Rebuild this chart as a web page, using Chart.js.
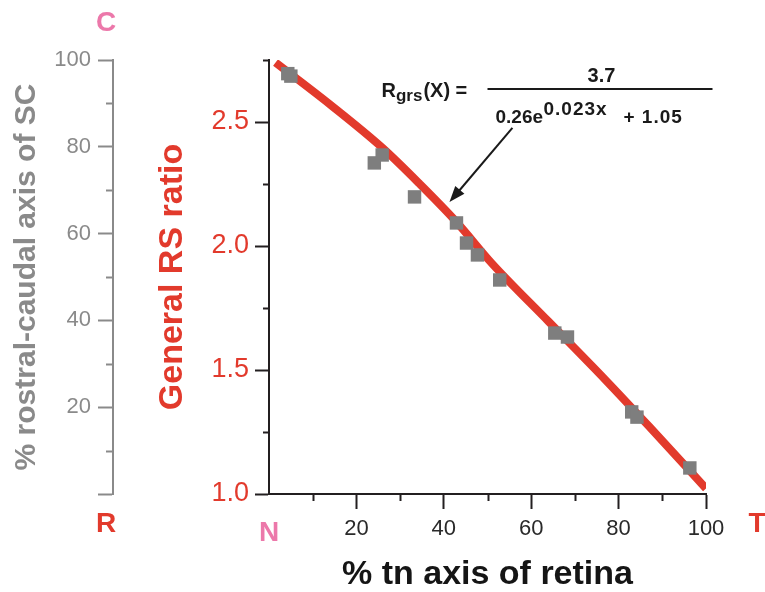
<!DOCTYPE html>
<html>
<head>
<meta charset="utf-8">
<script src="https://cdn.jsdelivr.net/npm/chart.js@4.4.1/dist/chart.umd.min.js"></script>
<style>
  html, body { margin: 0; padding: 0; background: #fff; }
  canvas { display: block; }
</style>
</head>
<body>
<canvas id="chart" width="765" height="592"></canvas>
<script>
// measured points (% tn axis of retina, general RS ratio)
const pointX = [4.3, 5.0, 24.1, 25.9, 33.3, 42.9, 45.2, 47.7, 52.8, 65.4, 68.3, 83.0, 84.2, 96.3]
const pointY = [2.695, 2.685, 2.335, 2.367, 2.198, 2.093, 2.012, 1.964, 1.863, 1.649, 1.633, 1.331, 1.31, 1.105]

// fitted curve
const fitX = [1.5, 14, 26, 34.5, 43, 51, 64, 77, 87, 100]
const fitY = [2.74, 2.57, 2.395, 2.25, 2.095, 1.93, 1.695, 1.46, 1.272, 1.022]

// minor ticks
const ratioMinor = [1.25, 1.75, 2.25, 2.75]
const percentMinor = [10, 30, 50, 70, 90]

// end labels of the two anatomical axes
const retinaEnds = ['N', 'T']
const scEnds = ['R', 'C']

// equation annotation, anchored in data units
const eqAnchor = [50, 2.633]
const arrowFrom = [55.7, 2.476]
const arrowTo = [41.3, 2.177]

const FONT = '"Liberation Sans", Arial, Helvetica, sans-serif'
const RED = '#e23a2c'
const PINK = '#ec78aa'
const GREY = '#8a8a8a'
const POINT = '#7e7e7e'
const AXIS = '#231f20'

const decor = {
    id: 'decor',
    afterDraw(chart) {
        const { ctx, scales: { x, y, sc } } = chart
        ctx.save()

        // minor ticks
        ctx.lineWidth = 2
        ctx.strokeStyle = AXIS
        ratioMinor.forEach(v => {
            const py = Math.round(y.getPixelForValue(v)) + 0.5
            ctx.beginPath(); ctx.moveTo(y.right - 6, py); ctx.lineTo(y.right, py); ctx.stroke()
        })
        percentMinor.forEach(v => {
            const px = Math.round(x.getPixelForValue(v)) + 0.5
            ctx.beginPath(); ctx.moveTo(px, x.top); ctx.lineTo(px, x.top + 7); ctx.stroke()
        })
        ctx.strokeStyle = GREY
        percentMinor.forEach(v => {
            const py = Math.round(sc.getPixelForValue(v)) + 0.5
            ctx.beginPath(); ctx.moveTo(sc.right - 7, py); ctx.lineTo(sc.right, py); ctx.stroke()
        })

        // axis end letters
        ctx.font = 'bold 28px ' + FONT
        ctx.textAlign = 'center'
        ctx.textBaseline = 'middle'
        ctx.fillStyle = RED
        ctx.fillText(scEnds[0], sc.right - 7, sc.getPixelForValue(0) + 30)
        ctx.fillText(retinaEnds[1], x.getPixelForValue(100) + 51, sc.getPixelForValue(0) + 30)
        ctx.fillStyle = PINK
        ctx.fillText(scEnds[1], sc.right - 7, sc.getPixelForValue(100) - 37)

        // equation
        const ex = x.getPixelForValue(eqAnchor[0])
        const ey = y.getPixelForValue(eqAnchor[1])
        ctx.fillStyle = '#1a1a1a'
        ctx.textBaseline = 'alphabetic'
        ctx.textAlign = 'left'
        let cx = ex - 106
        ctx.font = 'bold 20px ' + FONT
        ctx.fillText('R', cx, ey + 8)
        cx += ctx.measureText('R').width
        ctx.font = 'bold 17px ' + FONT
        ctx.fillText('grs', cx, ey + 12)
        cx += ctx.measureText('grs').width
        ctx.font = 'bold 20px ' + FONT
        ctx.fillText('(X) =', cx + 1, ey + 8)

        ctx.strokeStyle = '#1a1a1a'
        ctx.lineWidth = 2
        ctx.beginPath(); ctx.moveTo(ex, ey); ctx.lineTo(ex + 225, ey); ctx.stroke()

        ctx.textAlign = 'center'
        ctx.fillText('3.7', ex + 114, ey - 7)
        ctx.textAlign = 'left'
        ctx.font = 'bold 19px ' + FONT
        ctx.fillText('0.26e', ex + 8, ey + 34)
        ctx.letterSpacing = '1px'
        ctx.fillText('0.023x', ex + 56, ey + 26)
        ctx.fillText('+ 1.05', ex + 136, ey + 34)
        ctx.letterSpacing = '0px'

        // arrow
        const ax0 = x.getPixelForValue(arrowFrom[0]), ay0 = y.getPixelForValue(arrowFrom[1])
        const ax1 = x.getPixelForValue(arrowTo[0]), ay1 = y.getPixelForValue(arrowTo[1])
        const ang = Math.atan2(ay1 - ay0, ax1 - ax0)
        ctx.beginPath(); ctx.moveTo(ax0, ay0)
        ctx.lineTo(ax1 - 10 * Math.cos(ang), ay1 - 10 * Math.sin(ang)); ctx.stroke()
        ctx.beginPath()
        ctx.moveTo(ax1, ay1)
        ctx.lineTo(ax1 - 16 * Math.cos(ang) + 6 * Math.sin(ang), ay1 - 16 * Math.sin(ang) - 6 * Math.cos(ang))
        ctx.lineTo(ax1 - 16 * Math.cos(ang) - 6 * Math.sin(ang), ay1 - 16 * Math.sin(ang) + 6 * Math.cos(ang))
        ctx.closePath()
        ctx.fill()

        ctx.restore()
    }
}

const isZero = ctx => ctx.tick && ctx.tick.value === 0

const config = {
    type: 'scatter',
    data: {
        datasets: [{
            label: 'measured',
            data: pointX.map((v, i) => ({ x: v, y: pointY[i] })),
            xAxisID: 'x',
            yAxisID: 'y',
            pointStyle: 'rect',
            pointRadius: 9.5,
            pointHoverRadius: 9.5,
            backgroundColor: POINT,
            borderWidth: 0
        }, {
            label: 'fit',
            data: fitX.map((v, i) => ({ x: v, y: fitY[i] })),
            xAxisID: 'x',
            yAxisID: 'y',
            showLine: true,
            borderColor: RED,
            borderWidth: 8,
            pointRadius: 0,
            cubicInterpolationMode: 'monotone',
            fill: false
        }]
    },
    options: {
        responsive: false,
        animation: false,
        devicePixelRatio: 1,
        layout: { padding: { top: 60, right: 59, bottom: 0, left: 0 } },
        plugins: {
            legend: { display: false },
            tooltip: { enabled: false }
        },
        scales: {
            x: {
                type: 'linear',
                position: 'bottom',
                min: 0,
                max: 100,
                ticks: {
                    stepSize: 20,
                    padding: 7,
                    maxRotation: 0,
                    color: ctx => isZero(ctx) ? PINK : '#2a2a2a',
                    font: ctx => isZero(ctx) ? { family: FONT, size: 28, weight: 'bold' } : { family: FONT, size: 22 },
                    callback: v => v === 0 ? retinaEnds[0] : v
                },
                grid: {
                    drawOnChartArea: false,
                    tickLength: 15,
                    tickWidth: 2,
                    tickColor: ctx => isZero(ctx) ? 'rgba(0,0,0,0)' : AXIS
                },
                border: { color: AXIS, width: 2 },
                title: {
                    display: true,
                    text: '% tn axis of retina',
                    color: '#151515',
                    font: { family: FONT, size: 34, weight: 'bold', lineHeight: 1 },
                    padding: { top: 0, bottom: 0 }
                },
                afterFit: s => { s.height = 98 }
            },
            sc: {
                type: 'linear',
                position: 'left',
                weight: 1,
                min: 0,
                max: 100,
                ticks: {
                    stepSize: 20,
                    padding: 7,
                    color: GREY,
                    font: { family: FONT, size: 22 },
                    callback: v => v === 0 ? '' : v
                },
                grid: { drawOnChartArea: false, tickLength: 15, tickWidth: 2, tickColor: GREY },
                border: { color: GREY, width: 2 },
                title: {
                    display: true,
                    text: '% rostral-caudal axis of SC',
                    color: GREY,
                    font: { family: FONT, size: 30, weight: 'bold', lineHeight: 1 },
                    padding: { top: 12, bottom: 0 }
                },
                afterFit: s => { s.width = 113 }
            },
            y: {
                type: 'linear',
                position: 'left',
                weight: 0,
                min: 1,
                max: 2.75,
                ticks: {
                    stepSize: 0.5,
                    includeBounds: false,
                    padding: 6,
                    color: RED,
                    font: { family: FONT, size: 27 },
                    callback: v => v.toFixed(1)
                },
                grid: { drawOnChartArea: false, tickLength: 14, tickWidth: 2, tickColor: AXIS },
                border: { color: AXIS, width: 2 },
                title: {
                    display: true,
                    text: 'General RS ratio',
                    color: RED,
                    font: { family: FONT, size: 34, weight: 'bold', lineHeight: 1 },
                    padding: { top: 43, bottom: 0 }
                },
                afterFit: s => { s.width = 156 }
            }
        }
    },
    plugins: [decor]
}

const chart = new Chart(document.getElementById('chart'), config)
</script>
</body>
</html>
